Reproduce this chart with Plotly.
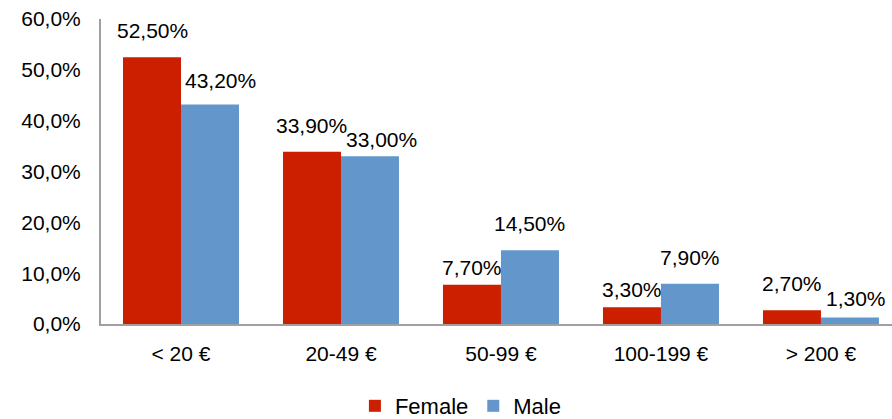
import plotly.graph_objects as go

categories = ["< 20 €", "20-49 €", "50-99 €", "100-199 €", "> 200 €"]
female = [52.5, 33.9, 7.7, 3.3, 2.7]
male = [43.2, 33.0, 14.5, 7.9, 1.3]
y_ticks = [0, 10, 20, 30, 40, 50, 60]
y_tick_text = [f"{t:.1f}%".replace(".", ",") for t in y_ticks]

# hand-placed nudges (pixels) for the value labels, per category
female_label_dx = [0, 0, 0, 0, 0]
female_label_dy = [0, 0, -9.5, -8.5, 0]
male_label_dx = [10, 12, 0, 0, 6]
male_label_dy = [-2.5, -9.5, 0, 0, -7.5]

RED = "#CC1F00"
BLUE = "#6397CB"
FONT = "Liberation Sans, Arial, sans-serif"
BAR_HALF = 29  # half the width of one bar, px

fig = go.Figure()
fig.add_trace(go.Bar(name="Female", x=categories, y=female, marker=dict(color=RED, line=dict(width=0))))
fig.add_trace(go.Bar(name="Male", x=categories, y=male, marker=dict(color=BLUE, line=dict(width=0))))

# value labels above each bar
for series, side, dxs, dys in ((female, -1, female_label_dx, female_label_dy),
                               (male, 1, male_label_dx, male_label_dy)):
    for cat, v, dx, dy in zip(categories, series, dxs, dys):
        fig.add_annotation(
            x=cat, y=v, text=f"{v:.2f}%".replace(".", ","),
            showarrow=False, xshift=side * BAR_HALF + dx, yshift=13 + dy,
            yanchor="bottom",
            font=dict(family=FONT, size=21, color="#000000"),
        )

fig.update_layout(
    width=892, height=419,
    margin=dict(l=101, r=0, t=19, b=95, autoexpand=False),
    paper_bgcolor="white", plot_bgcolor="white",
    barmode="group", bargap=0.275, bargroupgap=0,
    font=dict(family=FONT, size=21, color="#000000"),
    showlegend=True,
    legend=dict(orientation="h", x=0.455, xanchor="center",
                yref="container", y=0.031, yanchor="middle",
                font=dict(size=22), itemwidth=30, traceorder="normal"),
    xaxis=dict(range=[-0.5, 4.444], showline=True, linecolor="#A0A0A0", linewidth=2,
               ticks="", ticklabelstandoff=10, tickfont=dict(size=21), showgrid=False,
               automargin=False),
    yaxis=dict(range=[0, 60], tickvals=y_ticks, ticktext=y_tick_text,
               showline=True, linecolor="#A0A0A0", linewidth=2, ticks="",
               showgrid=False, zeroline=False, ticklabelstandoff=14,
               tickfont=dict(size=21), automargin=False),
)

fig.write_html("out.html")
